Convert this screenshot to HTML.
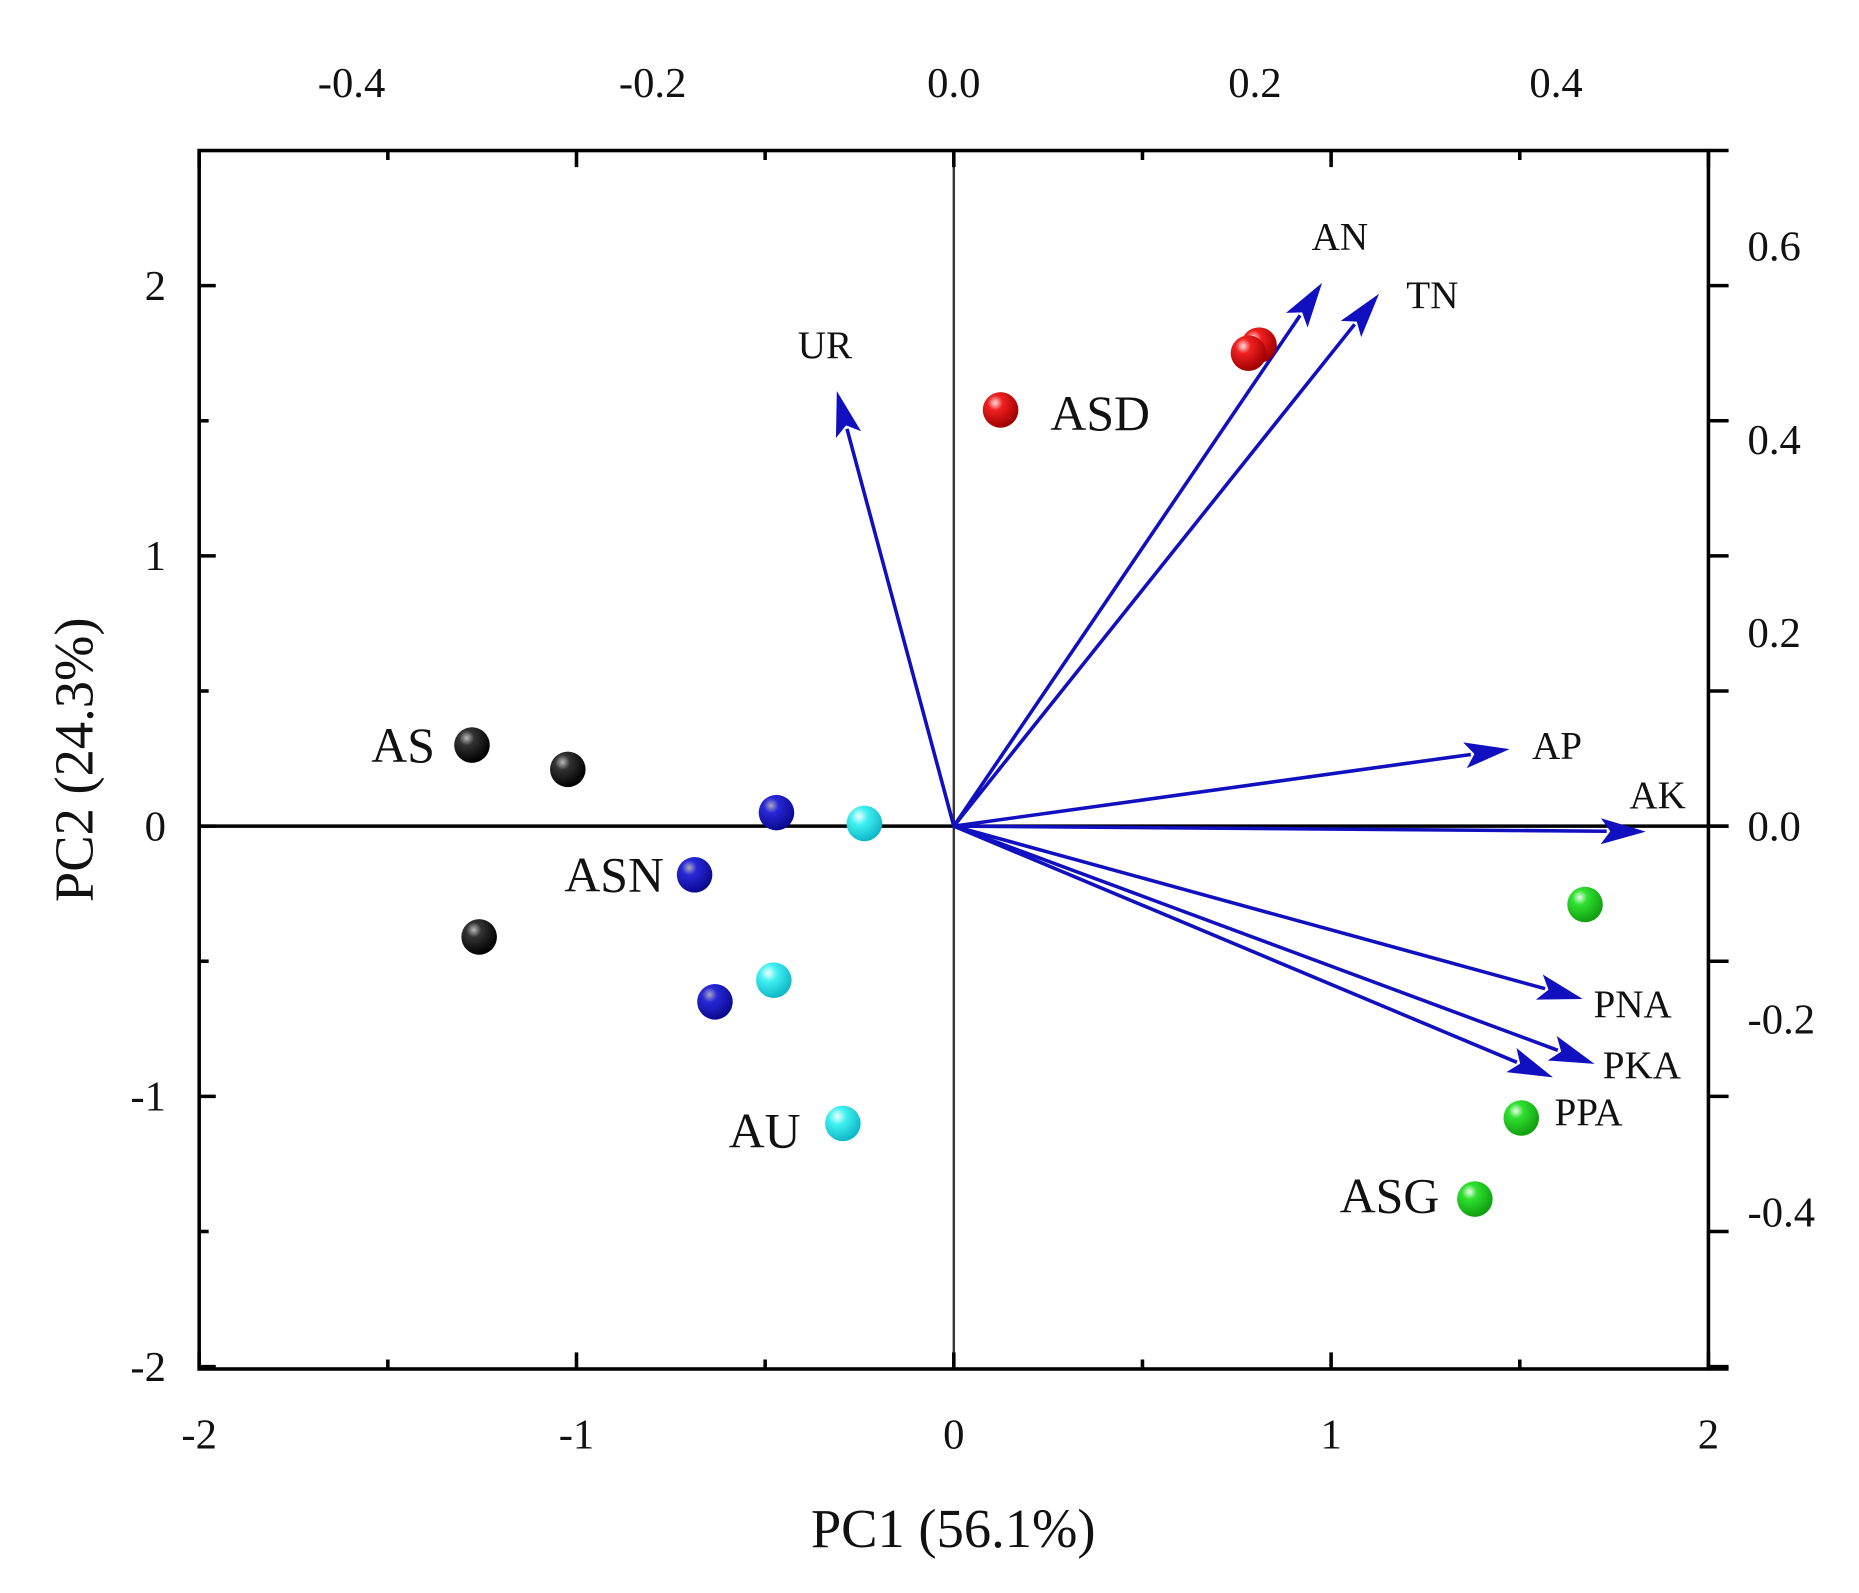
<!DOCTYPE html>
<html><head><meta charset="utf-8"><style>
html,body{margin:0;padding:0;background:#fff;}
svg{display:block;}
text{font-family:"Liberation Serif",serif;fill:#111;}
</style></head><body>
<svg id="chart" width="1859" height="1593" viewBox="0 0 1568 1344" preserveAspectRatio="none" xmlns="http://www.w3.org/2000/svg">
<defs>
<radialGradient id="g-black" cx="35%" cy="30%" r="70%"><stop offset="0" stop-color="#bbb"/><stop offset="0.3" stop-color="#333"/><stop offset="1" stop-color="#000"/></radialGradient>
<radialGradient id="g-blue" cx="35%" cy="30%" r="70%"><stop offset="0" stop-color="#aab"/><stop offset="0.3" stop-color="#2828d8"/><stop offset="1" stop-color="#0a0a90"/></radialGradient>
<radialGradient id="g-cyan" cx="35%" cy="30%" r="70%"><stop offset="0" stop-color="#efffff"/><stop offset="0.35" stop-color="#40f0f0"/><stop offset="1" stop-color="#10b8c8"/></radialGradient>
<radialGradient id="g-red" cx="35%" cy="30%" r="70%"><stop offset="0" stop-color="#fdd"/><stop offset="0.3" stop-color="#f02020"/><stop offset="1" stop-color="#a00000"/></radialGradient>
<radialGradient id="g-green" cx="35%" cy="30%" r="70%"><stop offset="0" stop-color="#efe"/><stop offset="0.3" stop-color="#30e030"/><stop offset="1" stop-color="#10a010"/></radialGradient>
</defs>
<g id="axes"></g>
<g id="arrows"></g>
<g id="points"></g>
</svg>
<script>
const scoreGroups = ['AS','AS','AS','ASN','ASN','ASN','AU','AU','AU','ASD','ASD','ASD','ASG','ASG','ASG'];
const scoreX = [-1.277,-1.023,-1.258,-0.47,-0.687,-0.633,-0.237,-0.477,-0.294,0.124,0.809,0.781,1.673,1.504,1.381];
const scoreY = [0.30,0.21,-0.41,0.05,-0.18,-0.65,0.01,-0.57,-1.10,1.54,1.78,1.75,-0.29,-1.08,-1.38];
const loadNames = ['UR','AN','TN','AP','AK','PNA','PKA','PPA'];
const loadX = [-0.31,0.976,1.127,1.473,1.834,1.667,1.698,1.588];
const loadY = [1.61,2.01,1.97,0.285,-0.02,-0.64,-0.88,-0.93];
const xTicks = [-2,-1,0,1,2];
const yTicks = [-2,-1,0,1,2];
const topTicks = [-0.4,-0.2,0.0,0.2,0.4];
const rightTicks = [-0.4,-0.2,0.0,0.2,0.4,0.6];

const NS='http://www.w3.org/2000/svg';
const L=168,R=1441,T=127,B=1155;
const sx=v=>804.5+v*318.25;
const sy=v=>697-v*228;
const stx=v=>804.5+v*1270;
const sry=v=>697-v*815;
function mk(tag,attrs,parent,txt){const e=document.createElementNS(NS,tag);for(const k in attrs)e.setAttribute(k,attrs[k]);if(txt!==undefined)e.textContent=txt;parent.appendChild(e);return e;}
const ax=document.getElementById('axes');
let e;
e=mk('rect',{x:L,y:T,width:R-L,height:B-T,fill:'none',stroke:'#000','stroke-width':3},ax);


mk('line',{x1:R,y1:B,x2:1458,y2:B,stroke:'#000','stroke-width':3},ax);
mk('line',{x1:R,y1:T,x2:1458,y2:T,stroke:'#000','stroke-width':3},ax);
e=mk('line',{x1:L,y1:sy(0),x2:1458,y2:sy(0),stroke:'#000','stroke-width':3},ax);


e=mk('line',{x1:sx(0),y1:T,x2:sx(0),y2:B,stroke:'#333','stroke-width':2},ax);


for(let i=-2;i<=2;i+=0.5){const x=sx(i);mk('line',{x1:x,y1:B,x2:x,y2:B-(Number.isInteger(i)?14:8),stroke:'#000','stroke-width':3},ax);mk('line',{x1:x,y1:T,x2:x,y2:T+(Number.isInteger(i)?14:8),stroke:'#000','stroke-width':3},ax);}
xTicks.forEach(v=>{e=mk('text',{x:sx(v),y:1222,'font-size':36,'text-anchor':'middle'},ax,String(v));

});
for(let i=-2;i<=2;i+=0.5){const y=sy(i);mk('line',{x1:L,y1:y,x2:L+(Number.isInteger(i)?14:8),y2:y,stroke:'#000','stroke-width':3},ax);mk('line',{x1:R,y1:y,x2:1458,y2:y,stroke:'#000','stroke-width':3},ax);}
yTicks.forEach(v=>{e=mk('text',{x:140,y:sy(v)+12,'font-size':36,'text-anchor':'end'},ax,String(v));

});
topTicks.forEach(v=>{e=mk('text',{x:stx(v),y:82,'font-size':36,'text-anchor':'middle'},ax,v.toFixed(1));

});
rightTicks.forEach(v=>{e=mk('text',{x:1474,y:sry(v)+12,'font-size':36},ax,v.toFixed(1));

});
e=mk('text',{x:804,y:1305,'font-size':46,'text-anchor':'middle'},ax,'PC1 (56.1%)');


e=mk('text',{x:0,y:0,'font-size':46,'text-anchor':'middle',transform:'translate(78,641) rotate(-90)'},ax,'PC2 (24.3%)');



const ag=document.getElementById('arrows');
const lblOff={UR:[-10,-28],AN:[15,-28],TN:[45,12],AP:[40,8],AK:[10,-20],PNA:[42,15],PKA:[40,12],PPA:[30,40]};
loadNames.forEach((n,i)=>{
 const x0=sx(0),y0=sy(0),x1=sx(loadX[i]),y1=sy(loadY[i]);
 const dx=x1-x0,dy=y1-y0,len=Math.hypot(dx,dy),ux=dx/len,uy=dy/len;
 const hl=38,hw=11;
 const bx=x1-ux*hl,by=y1-uy*hl;
 e=mk('line',{x1:x0,y1:y0,x2:bx+ux*5,y2:by+uy*5,stroke:'#1010c0','stroke-width':3},ag);
 
 
 const nx=-uy,ny=ux;
 const pts=[[x1,y1],[bx+nx*hw,by+ny*hw],[bx+ux*8,by+uy*8],[bx-nx*hw,by-ny*hw]].map(p=>p[0].toFixed(1)+','+p[1].toFixed(1)).join(' ');
 e=mk('polygon',{points:pts,fill:'#1010c0'},ag);
 
 
 const o=lblOff[n];
 e=mk('text',{x:x1+o[0],y:y1+o[1],'font-size':33,'text-anchor':'middle'},ag,n);
 
 
});
const pg=document.getElementById('points');
const fills={AS:'g-black',ASN:'g-blue',AU:'g-cyan',ASD:'g-red',ASG:'g-green'};
scoreX.forEach((x,i)=>{
 e=mk('circle',{cx:sx(x),cy:sy(scoreY[i]),r:15,fill:'url(#'+fills[scoreGroups[i]]+')'},pg);
 
 
});
const grpLabels=[['AS',340,643],['ASN',518,752],['AU',645,968],['ASD',928,363],['ASG',1172,1023]];
grpLabels.forEach(g=>{
 e=mk('text',{x:g[1],y:g[2],'font-size':42,'text-anchor':'middle'},pg,g[0]);
 
 
});
</script>
</body></html>
